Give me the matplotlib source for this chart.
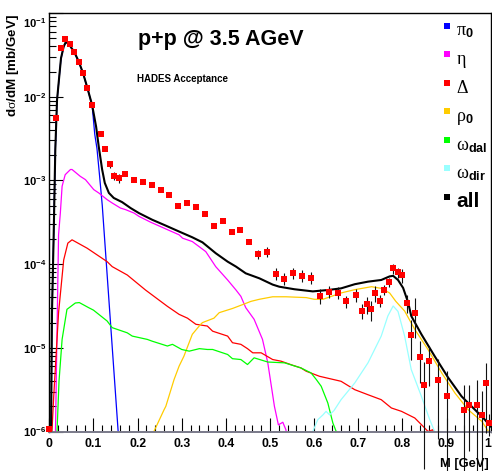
import matplotlib
matplotlib.use('Agg')
import matplotlib.pyplot as plt
import numpy as np
from matplotlib.lines import Line2D
from matplotlib.ticker import FixedLocator, MultipleLocator, FuncFormatter, NullFormatter
import matplotlib.transforms as mtrans

plt.rcParams['font.family'] = ['Liberation Sans', 'DejaVu Sans']
plt.rcParams['mathtext.fontset'] = 'custom'
plt.rcParams['mathtext.rm'] = 'Liberation Serif'
plt.rcParams['mathtext.bf'] = 'Liberation Sans:bold'
plt.rcParams['mathtext.it'] = 'Liberation Serif:italic'
plt.rcParams['mathtext.default'] = 'rm'

# ---------------- data ----------------
# experimental points (HADES)
pt_x = [0.0, 0.016, 0.0265, 0.036, 0.046, 0.057, 0.0667, 0.0765, 0.086, 0.097,
        0.117, 0.127, 0.137, 0.147, 0.157, 0.172, 0.192, 0.212, 0.232, 0.252,
        0.272, 0.292, 0.312, 0.333, 0.352, 0.373, 0.393, 0.413, 0.433, 0.453,
        0.473, 0.4925, 0.513, 0.5325, 0.553, 0.573, 0.593, 0.613, 0.633, 0.654,
        0.673, 0.694, 0.708, 0.719, 0.729, 0.739, 0.749, 0.759, 0.769, 0.7795,
        0.789, 0.799, 0.81, 0.82, 0.829, 0.839, 0.849, 0.86, 0.88, 0.90,
        0.94, 0.95, 0.97, 0.98, 0.99, 0.997]
pt_y = [1.06e-6, 5.6e-3, 3.85e-2, 4.9e-2, 4.27e-2, 3.4e-2, 2.6e-2, 1.92e-2, 1.27e-2, 8.05e-3,
        3.6e-3, 2.4e-3, 1.55e-3, 1.14e-3, 1.07e-3, 1.19e-3, 1.0e-3, 9.7e-4, 8.7e-4, 7.7e-4,
        6.7e-4, 5.0e-4, 5.35e-4, 4.8e-4, 4.0e-4, 2.85e-4, 3.27e-4, 2.4e-4, 2.55e-4, 1.85e-4,
        1.32e-4, 1.41e-4, 7.7e-5, 6.7e-5, 7.8e-5, 7.3e-5, 6.9e-5, 4.2e-5, 4.7e-5, 4.56e-5,
        3.59e-5, 4.27e-5, 2.75e-5, 3.3e-5, 2.88e-5, 4.47e-5, 3.66e-5, 4.96e-5, 6.05e-5, 8.9e-5,
        7.95e-5, 7.33e-5, 3.47e-5, 1.42e-5, 2.6e-5, 7.85e-6, 3.6e-6, 7.0e-6, 4.1e-6, 2.69e-6,
        1.8e-6, 2.1e-6, 2.06e-6, 1.59e-6, 3.8e-6, 1.26e-6]
pt_rel_err = [0.0, 0.03, 0.03, 0.03, 0.03, 0.03, 0.03, 0.03, 0.03, 0.03,
              0.05, 0.06, 0.09, 0.11, 0.12, 0.05, 0.05, 0.05, 0.05, 0.05,
              0.05, 0.05, 0.05, 0.05, 0.05, 0.05, 0.05, 0.05, 0.05, 0.05,
              0.13, 0.13, 0.16, 0.16, 0.16, 0.16, 0.16, 0.20, 0.17, 0.17,
              0.17, 0.17, 0.20, 0.24, 0.27, 0.22, 0.17, 0.13, 0.12, 0.14,
              0.13, 0.18, 0.24, 0.50, 0.50, 0.52, 0.90, 0.50, 0.80, 0.95,
              0.99, 0.72, 0.99, 0.90, 0.75, 0.30]

# simulated cocktail contributions
all_x = [0.004, 0.006, 0.01, 0.0136, 0.0175, 0.0227, 0.0265, 0.0326, 0.038, 0.048,
         0.057, 0.0667, 0.0765, 0.086, 0.097, 0.106, 0.112, 0.1197, 0.1257, 0.135,
         0.146, 0.165, 0.184, 0.203, 0.233, 0.264, 0.294, 0.324, 0.347, 0.377,
         0.404, 0.423, 0.445, 0.476, 0.506, 0.521, 0.555, 0.597, 0.631, 0.661,
         0.692, 0.722, 0.752, 0.771, 0.779, 0.79, 0.8016, 0.813, 0.82, 0.843,
         0.873, 0.904, 0.934, 0.949, 0.972, 0.987, 1.0]
all_y = [1e-6, 2.51e-5, 2.34e-4, 2.34e-3, 9.12e-3, 1.78e-2, 2.88e-2, 3.98e-2, 4.57e-2, 3.98e-2,
         3.39e-2, 2.63e-2, 1.91e-2, 1.29e-2, 7.94e-3, 4.40e-3, 2.54e-3, 1.35e-3, 9.33e-4, 7.08e-4,
         6.17e-4, 5.50e-4, 4.68e-4, 4.07e-4, 3.39e-4, 2.88e-4, 2.45e-4, 2.09e-4, 1.82e-4, 1.35e-4,
         1.07e-4, 9.33e-5, 7.76e-5, 6.76e-5, 5.69e-5, 5.37e-5, 5.01e-5, 4.72e-5, 4.90e-5, 5.13e-5,
         5.75e-5, 6.17e-5, 6.46e-5, 7.13e-5, 7.24e-5, 6.46e-5, 5.19e-5, 3.47e-5, 2.40e-5, 1.45e-5,
         7.94e-6, 4.37e-6, 2.63e-6, 2.19e-6, 1.66e-6, 1.38e-6, 1.15e-6]

pi0_x = [0.004, 0.006, 0.01, 0.0136, 0.0175, 0.0227, 0.0265, 0.0326, 0.038, 0.048,
         0.057, 0.0667, 0.0765, 0.086, 0.097, 0.103, 0.108, 0.114, 0.12, 0.13,
         0.142, 0.156, 0.158]
pi0_y = [1e-6, 2.4e-5, 2.3e-4, 2.3e-3, 9.0e-3, 1.75e-2, 2.85e-2, 3.95e-2, 4.5e-2, 3.95e-2,
         3.35e-2, 2.6e-2, 1.9e-2, 1.28e-2, 7.9e-3, 3.55e-3, 2.40e-3, 1.12e-3, 5.01e-4, 8.91e-5,
         1.12e-5, 1.0e-6, 5e-7]

eta_x = [0.014, 0.0175, 0.021, 0.025, 0.029, 0.036, 0.048, 0.0515, 0.07, 0.082,
         0.1007, 0.112, 0.131, 0.1425, 0.161, 0.173, 0.192, 0.203, 0.23, 0.264,
         0.294, 0.302, 0.324, 0.3545, 0.377, 0.404, 0.423, 0.434, 0.445, 0.464,
         0.483, 0.495, 0.51, 0.519, 0.529, 0.536, 0.545]
eta_y = [1e-6, 1.58e-5, 2.24e-4, 4.07e-4, 8.51e-4, 1.17e-3, 1.35e-3, 1.35e-3, 1.12e-3, 1.02e-3,
         7.76e-4, 7.08e-4, 5.89e-4, 5.37e-4, 4.68e-4, 4.47e-4, 4.07e-4, 3.72e-4, 3.16e-4, 2.63e-4,
         2.24e-4, 2.04e-4, 1.86e-4, 1.41e-4, 9.33e-5, 6.46e-5, 4.90e-5, 4.12e-5, 3.02e-5, 2.19e-5,
         1.26e-5, 6.61e-6, 2.00e-6, 1.20e-6, 1.29e-6, 1.05e-6, 5e-7]

delta_x = [0.006, 0.01, 0.021, 0.0326, 0.042, 0.0515, 0.0856, 0.131, 0.1425, 0.1766,
           0.218, 0.2675, 0.294, 0.313, 0.332, 0.358, 0.37, 0.404, 0.415, 0.434,
           0.449, 0.461, 0.48, 0.506, 0.525, 0.552, 0.57, 0.582, 0.612, 0.661,
           0.692, 0.722, 0.752, 0.775, 0.798, 0.828, 0.847, 0.858, 0.869, 0.875]
delta_y = [1e-6, 2.63e-6, 2.63e-5, 1.12e-4, 1.78e-4, 1.95e-4, 1.55e-4, 1.07e-4, 9.33e-5, 7.41e-5,
           4.90e-5, 3.13e-5, 2.51e-5, 2.26e-5, 1.91e-5, 1.82e-5, 1.58e-5, 1.38e-5, 1.15e-5, 1.10e-5,
           9.77e-6, 8.71e-6, 8.71e-6, 7.24e-6, 6.92e-6, 6.17e-6, 5.75e-6, 5.25e-6, 4.57e-6, 3.98e-6,
           3.16e-6, 2.75e-6, 2.40e-6, 1.91e-6, 1.74e-6, 1.45e-6, 1.15e-6, 1.0e-6, 1.05e-6, 6.3e-7]

rho_x = [0.237, 0.26, 0.264, 0.2826, 0.294, 0.305, 0.324, 0.343, 0.347, 0.373,
         0.385, 0.415, 0.445, 0.457, 0.476, 0.506, 0.536, 0.582, 0.60, 0.62,
         0.631, 0.661, 0.692, 0.73, 0.752, 0.771, 0.785, 0.805, 0.828, 0.858,
         0.889, 0.919, 0.949, 0.98, 0.995, 1.0]
rho_y = [1e-6, 1.82e-6, 2.0e-6, 4.17e-6, 6.03e-6, 7.94e-6, 1.45e-5, 1.91e-5, 2.0e-5, 2.26e-5,
         2.63e-5, 2.95e-5, 3.39e-5, 3.59e-5, 3.80e-5, 4.07e-5, 4.07e-5, 3.98e-5, 3.80e-5, 3.80e-5,
         3.98e-5, 4.52e-5, 4.95e-5, 5.37e-5, 5.13e-5, 4.52e-5, 3.59e-5, 2.75e-5, 1.66e-5, 9.55e-6,
         5.01e-6, 2.88e-6, 1.82e-6, 1.32e-6, 1.0e-6, 7.9e-7]

omdal_x = [0.0175, 0.022, 0.029, 0.04, 0.059, 0.068, 0.089, 0.1, 0.131, 0.1425,
           0.1766, 0.188, 0.222, 0.233, 0.2675, 0.279, 0.300, 0.317, 0.340, 0.358,
           0.37, 0.404, 0.415, 0.434, 0.449, 0.464, 0.495, 0.533, 0.57, 0.593,
           0.605, 0.616, 0.631, 0.6425, 0.65, 0.655]
omdal_y = [1e-6, 3.98e-6, 1.26e-5, 2.88e-5, 3.43e-5, 3.47e-5, 3.02e-5, 2.82e-5, 2.09e-5, 1.74e-5,
           1.51e-5, 1.38e-5, 1.26e-5, 1.20e-5, 1.05e-5, 1.10e-5, 9.55e-6, 9.12e-6, 9.77e-6, 9.55e-6,
           9.55e-6, 8.32e-6, 7.41e-6, 7.24e-6, 6.31e-6, 7.59e-6, 6.76e-6, 6.61e-6, 5.75e-6, 5.01e-6,
           4.17e-6, 3.47e-6, 2.19e-6, 1.26e-6, 1.0e-6, 5e-7]

omdir_x = [0.597, 0.608, 0.62, 0.627, 0.635, 0.645, 0.661, 0.692, 0.722, 0.752,
           0.767, 0.779, 0.79, 0.805, 0.82, 0.843, 0.862, 0.873, 0.878]
omdir_y = [1e-6, 1.38e-6, 1.58e-6, 1.74e-6, 1.58e-6, 1.78e-6, 2.40e-6, 3.80e-6, 6.61e-6, 1.38e-5,
           2.40e-5, 3.16e-5, 2.72e-5, 1.38e-5, 5.50e-6, 2.63e-6, 1.38e-6, 1.0e-6, 5e-7]

legend_labels = [r'$\pi_{\mathbf{0}}$', r'$\eta$', r'$\Delta$', r'$\rho_{\mathbf{0}}$',
                 r'$\omega_{\mathbf{dal}}$', r'$\omega_{\mathbf{dir}}$', 'all']
colors = ['#0000ff', '#ff00ff', '#ff0000', '#ffcc00', '#00ff00', '#99ffff', '#000000']

x_ticks = [0.0, 0.1, 0.2, 0.3, 0.4, 0.5, 0.6, 0.7, 0.8, 0.9, 1.0]
y_decades = [-6, -5, -4, -3, -2, -1]

# ---------------- figure ----------------
W, H = 492, 471
fig = plt.figure(figsize=(W / 100, H / 100), dpi=100)
ax = fig.add_axes([49.3 / W, 1 - 431.5 / H, 441.4 / W, 418.5 / H])
ax.set_yscale('log')

curves = [(pi0_x, pi0_y, colors[0], 0.9),
          (eta_x, eta_y, colors[1], 0.9),
          (delta_x, delta_y, colors[2], 0.9),
          (rho_x, rho_y, colors[3], 0.9),
          (omdal_x, omdal_y, colors[4], 0.9),
          (omdir_x, omdir_y, colors[5], 0.9)]
for cx, cy, c, lw in curves:
    ax.plot(cx, cy, color=c, lw=lw, zorder=2)
ax.plot(all_x, all_y, color='black', lw=1.5, zorder=3)

py = np.array(pt_y)
perr = np.array(pt_rel_err) * py
ax.errorbar(pt_x, pt_y, yerr=perr, fmt='s', ms=4.4, mew=0, color='#ff0000',
            ecolor='#111111', elinewidth=0.8, capsize=2.0, capthick=0.8,
            zorder=4, clip_on=False)

ax.set_xlim(0, 1)
ax.set_ylim(1e-6, 1e-1)

# ticks
ax.xaxis.set_major_locator(FixedLocator(x_ticks))
ax.xaxis.set_minor_locator(MultipleLocator(0.02))
ax.xaxis.set_major_formatter(FuncFormatter(lambda v, p: '%g' % v))
ax.yaxis.set_major_locator(FixedLocator([10.0 ** d for d in y_decades]))
minors = [m * 10.0 ** d for d in y_decades[:-1] for m in range(2, 10)]
ax.yaxis.set_minor_locator(FixedLocator(minors))
ax.yaxis.set_major_formatter(FuncFormatter(lambda v, p: r'$\mathbf{10^{%d}}$' % int(round(np.log10(v)))))
ax.yaxis.set_minor_formatter(NullFormatter())
ax.tick_params(which='both', direction='in', top=False, right=False, width=0.8, color='black')
ax.tick_params(which='major', length=10)
ax.tick_params(which='minor', length=5)
ax.tick_params(axis='x', which='major', pad=4.5, labelsize=8.8)
ax.tick_params(axis='y', which='major', pad=2.5, labelsize=8.0)
for lab in ax.get_xticklabels():
    lab.set_fontweight('bold')

for s in ax.spines.values():
    s.set_linewidth(1.0)
ax.spines['bottom'].set_color('#7a7a8a')
ax.spines['bottom'].set_linewidth(1.4)

# shift the top y label and last x label inward like ROOT
fig.canvas.draw()
ylabs = ax.get_yticklabels()
off = mtrans.ScaledTranslation(0, -9 / 100, fig.dpi_scale_trans)
ylabs[-1].set_transform(ylabs[-1].get_transform() + off)
xlabs = ax.get_xticklabels()
offx = mtrans.ScaledTranslation(-3 / 100, 0, fig.dpi_scale_trans)
xlabs[-1].set_transform(xlabs[-1].get_transform() + offx)

# texts
fig.text(138 / W, 1 - 45.5 / H, 'p+p @ 3.5 AGeV', fontsize=15.5, fontweight='bold', va='baseline')
fig.text(137 / W, 1 - 82.5 / H, 'HADES Acceptance', fontsize=7, fontweight='bold', va='baseline')
fig.text(488.5 / W, 1 - 467 / H, 'M [GeV]', fontsize=9.3, fontweight='bold', ha='right', va='baseline')
fig.text(13.5 / W, 1 - 14 / H, r'd$\sigma$/dM [mb/GeV]', fontsize=9.6, fontweight='bold',
         rotation=90, ha='center', va='top')

# legend
for i, (lab, c) in enumerate(zip(legend_labels, colors)):
    ym = 25.7 + 28.55 * i
    fig.add_artist(Line2D([447.3 / W], [1 - ym / H], marker='s', ms=4.4, mew=0, color=c,
                          ls='', transform=fig.transFigure))
    if lab == 'all':
        fig.text(456 / W, 1 - (ym + 10) / H, lab, fontsize=15, fontweight='bold', va='baseline')
    else:
        fig.text(456 / W, 1 - (ym + 10) / H, lab, fontsize=13, va='baseline')

fig.savefig('out.png', dpi=100)
